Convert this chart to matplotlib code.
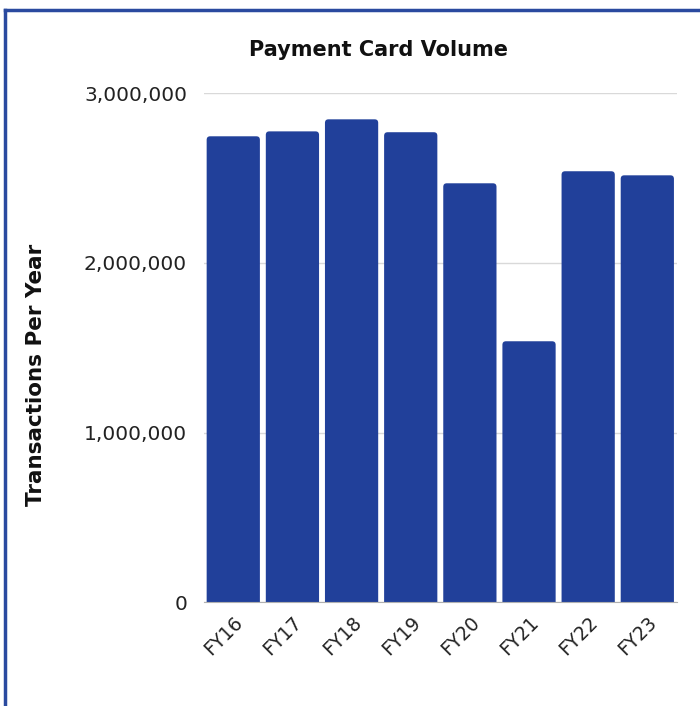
import matplotlib.pyplot as plt
from matplotlib.lines import Line2D
from matplotlib.patches import FancyBboxPatch
from matplotlib.ticker import FuncFormatter

# Data
years = ['FY16', 'FY17', 'FY18', 'FY19', 'FY20', 'FY21', 'FY22', 'FY23']
volume = [2746000, 2775000, 2846000, 2770000, 2469000, 1538000, 2540000, 2516000]

plt.rcParams['font.family'] = ['DejaVu Sans']

fig = plt.figure(figsize=(7, 7.06), dpi=100)
ax = fig.add_axes([0.291, 0.147, 0.676, 0.721])

bars = ax.bar(years, volume, width=0.9, color='#21409a', zorder=3)

ax.set_ylim(0, 3000000)
ax.set_xlim(-0.5, len(years) - 0.5)

# swap plain bars for ones with slightly rounded corners
fig.canvas.draw()
px_x = ax.transData.transform((1, 0))[0] - ax.transData.transform((0, 0))[0]
px_y = ax.transData.transform((0, 1e6))[1] - ax.transData.transform((0, 0))[1]
aspect = (1e6 / px_y) / (1 / px_x)
r = 3.5 / px_x
for b in bars:
    b.set_visible(False)
    x0, w, h = b.get_x(), b.get_width(), b.get_height()
    ax.add_patch(FancyBboxPatch((x0, -r * aspect), w, h + r * aspect,
                                boxstyle=f'round,pad=0,rounding_size={r}',
                                mutation_aspect=aspect, facecolor='#21409a',
                                edgecolor='none', zorder=3))

ax.set_yticks([0, 1000000, 2000000, 3000000])
ax.yaxis.set_major_formatter(FuncFormatter(lambda v, p: f'{int(v):,}'))
ax.grid(axis='y', color='#d9d9d9', linewidth=1, zorder=0)

for s in ['top', 'right', 'left']:
    ax.spines[s].set_visible(False)
ax.spines['bottom'].set_color('#b0b0b0')
ax.spines['bottom'].set_zorder(4)
ax.tick_params(axis='both', length=0, labelsize=14.5, colors='#222222')
ax.tick_params(axis='y', pad=12)
ax.tick_params(axis='x', pad=8)
plt.setp(ax.get_xticklabels(), rotation=45, ha='right', rotation_mode='anchor', fontsize=13.5)

fig.text(0.541, 0.929, 'Payment Card Volume', fontsize=15, fontweight='bold',
         ha='center', va='center', color='#111111')
fig.text(0.052, 0.469, 'Transactions Per Year', fontsize=15.5, fontweight='bold',
         ha='center', va='center', rotation=90, color='#111111')

# Blue frame along top and left edge
fig.add_artist(Line2D([0.007, 0.007], [0, 0.986], color='#2a4a9f', linewidth=2.5, transform=fig.transFigure))
fig.add_artist(Line2D([0.007, 1.0], [0.986, 0.986], color='#2a4a9f', linewidth=2.5, transform=fig.transFigure))

plt.savefig('out.png', dpi=100)
